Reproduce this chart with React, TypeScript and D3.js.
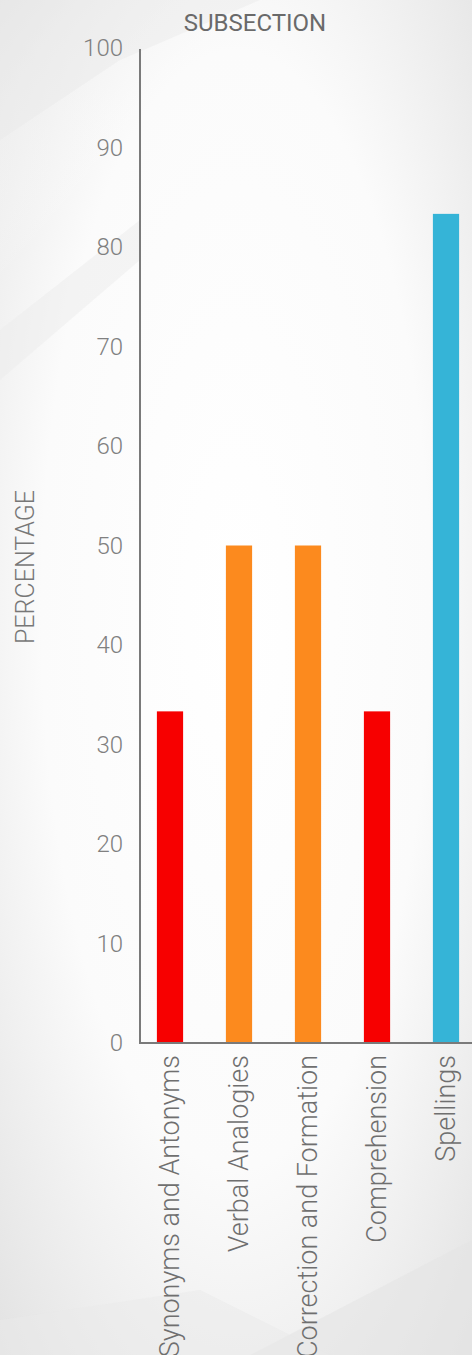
import React from "react";
import * as d3 from "d3";

const categories = [
  "Synonyms and Antonyms",
  "Verbal Analogies",
  "Correction and Formation",
  "Comprehension",
  "Spellings",
];
const values = [33.33, 50, 50, 33.33, 83.33];
const barColors = ["#f70000", "#fc8a1e", "#fc8a1e", "#f70000", "#35b4d7"];
const yTicks = [0, 10, 20, 30, 40, 50, 60, 70, 80, 90, 100];
const title = "SUBSECTION";
const yTitle = "PERCENTAGE";

const W = 472;
const H = 1355;
const axisX = 140;
const axisY = 1043;

export default function App() {
  const y = d3.scaleLinear().domain([0, 100]).range([axisY, 48]);
  const step = 69;
  const x = d3
    .scaleBand<string>()
    .domain(categories)
    .range([135.5, 135.5 + step * categories.length])
    .paddingInner(0.62)
    .paddingOuter(0.31);
  const font = "Roboto, 'Noto Sans', sans-serif";
  return (
    <svg
      width={W}
      height={H}
      style={{ position: "absolute", left: 0, top: 0, display: "block" }}
    >
      <defs>
        <radialGradient id="bg" cx="0.5" cy="0.45" r="0.75">
          <stop offset="0" stopColor="#ffffff" />
          <stop offset="0.55" stopColor="#fbfbfb" />
          <stop offset="1" stopColor="#e2e2e2" />
        </radialGradient>
        <linearGradient id="tl" x1="0" y1="0" x2="1" y2="1">
          <stop offset="0" stopColor="#e6e6e6" stopOpacity="0.9" />
          <stop offset="0.3" stopColor="#ffffff" stopOpacity="0" />
        </linearGradient>
      </defs>
      <rect width={W} height={H} fill="url(#bg)" />
      <rect width={W} height={H * 0.35} fill="url(#tl)" />
      {/* faint geometric texture */}
      <path d="M0,140 L120,60 L260,0 L0,0 Z" fill="#e9e9e9" opacity={0.45} />
      <path d="M0,330 L140,220 L140,260 L0,380 Z" fill="#ececec" opacity={0.5} />
      <path d="M250,1355 L472,1240 L472,1355 Z" fill="#e4e4e4" opacity={0.6} />
      <path d="M0,1320 L200,1290 L330,1355 L0,1355 Z" fill="#e9e9e9" opacity={0.5} />

      <text
        x={255}
        y={31}
        textAnchor="middle"
        fontFamily={font}
        fontSize={24}
        fill="#6a6a6a"
      >
        {title}
      </text>
      <text
        transform={`translate(34, ${567}) rotate(-90)`}
        textAnchor="middle"
        fontFamily={font}
        fontWeight={300}
        fontSize={25}
        fill="#777"
      >
        {yTitle}
      </text>

      {yTicks.map((t) => (
        <text
          key={t}
          x={123}
          y={y(t)}
          dy="0.35em"
          textAnchor="end"
          fontFamily={font}
          fontWeight={300}
          fontSize={24}
          fill="#808080"
        >
          {t}
        </text>
      ))}

      {categories.map((c, i) => (
        <rect
          key={c}
          x={x(c)}
          y={y(values[i])}
          width={x.bandwidth()}
          height={axisY - y(values[i])}
          fill={barColors[i]}
        />
      ))}

      <line x1={axisX} x2={axisX} y1={y(100) + 1} y2={axisY} stroke="#7a7a7a" strokeWidth={2} />
      <line x1={axisX - 1} x2={W} y1={axisY} y2={axisY} stroke="#7a7a7a" strokeWidth={2} />

      {categories.map((c) => (
        <text
          key={c}
          transform={`translate(${(x(c) as number) + x.bandwidth() / 2}, ${axisY + 12}) rotate(-90)`}
          dy="0.35em"
          textAnchor="end"
          fontFamily={font}
          fontWeight={300}
          fontSize={27}
          fill="#6f6f6f"
        >
          {c}
        </text>
      ))}
    </svg>
  );
}
